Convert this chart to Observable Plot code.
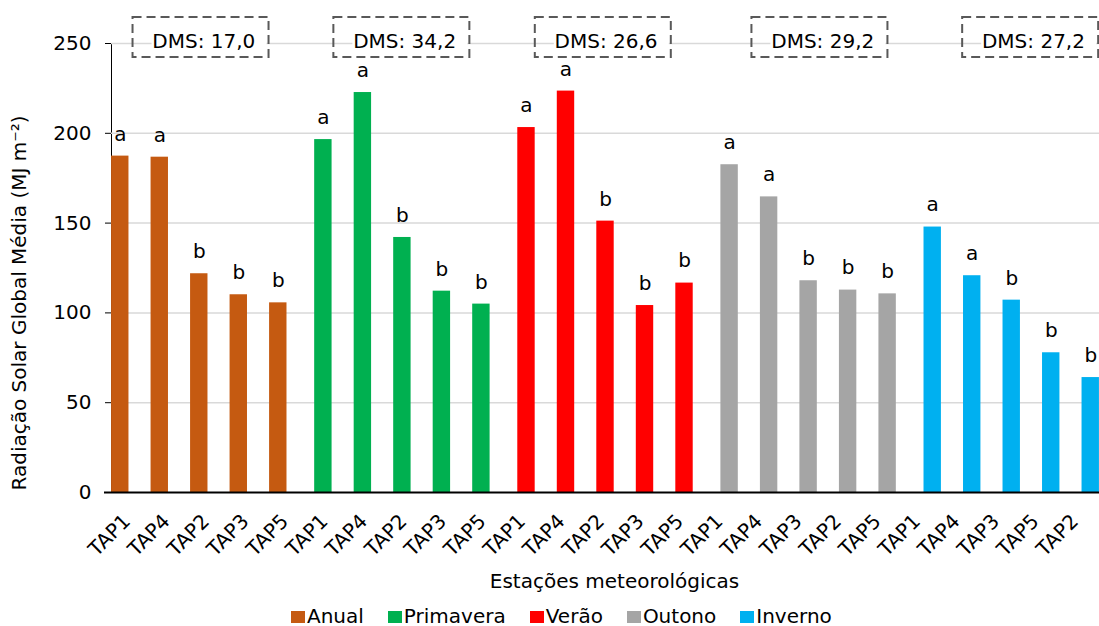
<!DOCTYPE html>
<html>
<head>
<meta charset="utf-8">
<script src="https://cdn.jsdelivr.net/npm/d3@7"></script>
<script src="https://cdn.jsdelivr.net/npm/@observablehq/plot@0.6"></script>
<style>
  html, body { margin: 0; padding: 0; background: #fff; overflow: hidden; }
  #chart { width: 1099px; }
  .lg-swatches-wrap { margin: 0 !important; padding: 1px 0 0 291px !important; min-height: 0 !important;
    font-family: "DejaVu Sans", sans-serif !important; font-size: 20px !important; color: #000 !important;
    display: flex !important; align-items: baseline !important; line-height: 24px !important; }
  .lg-swatch { margin-right: 24px !important; align-items: baseline !important; }
  .lg-swatch:first-child { margin-right: 31px !important; }
  .lg-swatch > svg { margin-right: 2px !important; }
</style>
</head>
<body>
<div id="chart"></div>
<script>
// ---------------- data ----------------
const seasons = ["Anual", "Primavera", "Verão", "Outono", "Inverno"];
const seasonColors = ["#C55A11", "#00B050", "#FF0000", "#A5A5A5", "#00B0F0"];

const anualStations     = ["TAP1", "TAP4", "TAP2", "TAP3", "TAP5"];
const primaveraStations = ["TAP1", "TAP4", "TAP2", "TAP3", "TAP5"];
const veraoStations     = ["TAP1", "TAP4", "TAP2", "TAP3", "TAP5"];
const outonoStations    = ["TAP1", "TAP4", "TAP3", "TAP2", "TAP5"];
const invernoStations   = ["TAP1", "TAP4", "TAP3", "TAP5", "TAP2"];

const anualValues     = [187.3, 186.7, 121.8, 110.1, 105.6];
const primaveraValues = [196.5, 222.7, 142.0, 112.1, 104.9];
const veraoValues     = [203.2, 223.5, 151.1, 104.1, 116.6];
const outonoValues    = [182.5, 164.6, 117.9, 112.7, 110.6];
const invernoValues   = [147.8, 120.7, 107.1, 77.8, 64.0];

const anualLetters     = ["a", "a", "b", "b", "b"];
const primaveraLetters = ["a", "a", "b", "b", "b"];
const veraoLetters     = ["a", "a", "b", "b", "b"];
const outonoLetters    = ["a", "a", "b", "b", "b"];
const invernoLetters   = ["a", "a", "b", "b", "b"];

const dmsValues = ["17,0", "34,2", "26,6", "29,2", "27,2"];

const yTicks = [0, 50, 100, 150, 200, 250];
const yTitle = "Radiação Solar Global Média (MJ m⁻²)";
const xTitle = "Estações meteorológicas";

// ---------------- table built from the arrays ----------------
const stationLists = [anualStations, primaveraStations, veraoStations, outonoStations, invernoStations];
const valueLists = [anualValues, primaveraValues, veraoValues, outonoValues, invernoValues];
const letterLists = [anualLetters, primaveraLetters, veraoLetters, outonoLetters, invernoLetters];

const rows = seasons.flatMap((s, k) => stationLists[k].map((st, j) => ({
  season: s, station: st, key: s + "|" + st, value: valueLists[k][j], letter: letterLists[k][j], group: k
})));
const keys = rows.map(d => d.key);
const dmsRows = seasons.map((s, k) => ({season: s, key: s + "|" + stationLists[k][2], label: "DMS: " + dmsValues[k]}));

// ---------------- layout styling ----------------
const groupDx = k => (k - 2) * 5.58;            // extra gap between season groups in the original
const boxDx = [-9.4, -6.1, -2.2, 16.9, 30.1];     // annotation box placement

const marks = [];
marks.push(Plot.ruleY(yTicks.filter(t => t > 0), {stroke: "#D9D9D9", strokeWidth: 1.5}));

dmsRows.forEach((d, k) => {
  marks.push(Plot.rect([d], {x: "key", y1: 250, y2: 250, dx: boxDx[k], fill: "white",
    insetLeft: -40.3, insetRight: -57.3, insetTop: -12.7, insetBottom: -7.3}));
  marks.push(Plot.rect([d], {x: "key", y1: 250, y2: 250, dx: boxDx[k], fill: "none",
    stroke: "#595959", strokeWidth: 2, strokeDasharray: "9,5",
    insetLeft: -59.3, insetRight: -59.3, insetTop: -26, insetBottom: -14}));
  marks.push(Plot.text([d], {x: "key", y: 250, text: "label", dx: boxDx[k] - 8.7 - 40, dy: -1.8,
    textAnchor: "start", fill: "black", fontSize: 20}));
});

seasons.forEach((s, k) => {
  const sub = rows.filter(d => d.group === k);
  marks.push(Plot.barY(sub, {x: "key", y: "value", fill: "season", dx: groupDx(k)}));
  marks.push(Plot.text(sub, {x: "key", y: "value", text: "letter", dx: groupDx(k), dy: -22, fill: "black", fontSize: 20}));
});

marks.push(Plot.ruleY([0], {stroke: "black", strokeWidth: 2, insetLeft: -7}));

marks.push(Plot.text(rows, {x: "key", text: "station", frameAnchor: "bottom", rotate: -45,
  textAnchor: "end", dy: 30, fill: "black", fontSize: 20}));

marks.push(Plot.text([yTitle], {text: d => d, frameAnchor: "bottom-left", rotate: -90, textAnchor: "start",
  dx: -85.7, dy: -2, fill: "black", fontSize: 20}));
marks.push(Plot.text([xTitle], {text: d => d, frameAnchor: "bottom", dx: 9, dy: 95, fill: "black", fontSize: 20}));

const plot = Plot.plot({
  width: 1099,
  height: 603,
  marginLeft: 111,
  marginRight: 0,
  marginTop: 43,
  marginBottom: 111,
  style: {fontFamily: "DejaVu Sans", fontSize: "20px", color: "#000", background: "white", overflow: "visible"},
  x: {type: "band", domain: keys, paddingInner: 0.5595, paddingOuter: 0.284, round: false, axis: null},
  y: {domain: [0, 250], ticks: yTicks, tickSize: 6, tickPadding: 14, label: null, line: true},
  color: {domain: seasons, range: seasonColors},
  marks
});

const chart = document.getElementById("chart");
chart.appendChild(plot);
chart.appendChild(plot.legend("color", {className: "lg", swatchWidth: 14, swatchHeight: 12}));
</script>
</body>
</html>
